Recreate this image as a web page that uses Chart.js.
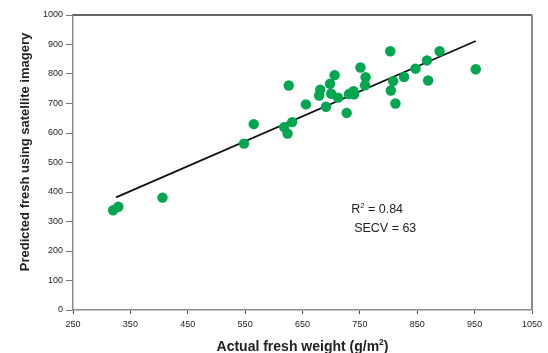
<!DOCTYPE html>
<html>
<head>
<meta charset="utf-8">
<script src="https://cdn.jsdelivr.net/npm/chart.js@4/dist/chart.umd.min.js"></script>
<style>
html,body{margin:0;padding:0;background:#fff;}
#wrap{width:548px;height:353px;position:relative;}
</style>
</head>
<body>
<div id="wrap"><canvas id="c" width="548" height="353"></canvas></div>
<script>
// Observed data: actual fresh weight (x) vs predicted (y)
const actualWeight = [320, 329, 406, 548, 565, 618, 624, 632, 626, 656, 679, 681, 691, 698, 700, 706, 712, 727, 731, 739, 740, 751, 760, 759, 803, 804, 808, 812, 827, 847, 867, 869, 889, 952];
const predictedWeight = [338, 350, 381, 564, 630, 620, 598, 637, 761, 697, 727, 747, 689, 767, 733, 796, 720, 668, 732, 742, 731, 822, 789, 762, 877, 744, 776, 700, 790, 818, 846, 778, 877, 816];
// Fitted regression line end points
const fitX = [325, 952];
const fitY = [382, 912];
// Axis ticks
const xTicks = [250, 350, 450, 550, 650, 750, 850, 950, 1050];
const yTicks = [0, 100, 200, 300, 400, 500, 600, 700, 800, 900, 1000];
const xTitle = 'Actual fresh weight (g/m';
const yTitle = 'Predicted fresh using satellite imagery';
const r2Text = ['R', '2', ' = 0.84'];
const secvText = 'SECV = 63';

const FONT = "'Liberation Sans', Arial, sans-serif";

const extras = {
  id: 'extras',
  afterDraw(chart) {
    const ctx = chart.ctx;
    const a = chart.chartArea;
    const xs = chart.scales.x, ys = chart.scales.y;
    ctx.save();
    // top border
    ctx.strokeStyle = '#333';
    ctx.lineWidth = 1.5;
    ctx.beginPath();
    ctx.moveTo(a.left, a.top);
    ctx.lineTo(a.right, a.top);
    ctx.stroke();
    // right border
    ctx.strokeStyle = '#8a8a8a';
    ctx.lineWidth = 2;
    ctx.beginPath();
    ctx.moveTo(a.right, a.top);
    ctx.lineTo(a.right, a.bottom);
    ctx.stroke();

    // annotations
    ctx.fillStyle = '#222';
    ctx.textBaseline = 'alphabetic';
    ctx.textAlign = 'left';
    let x = xs.getPixelForValue(735);
    let y = ys.getPixelForValue(330);
    ctx.font = '12.5px ' + FONT;
    ctx.fillText(r2Text[0], x, y);
    x += ctx.measureText(r2Text[0]).width;
    ctx.font = '7.5px ' + FONT;
    ctx.fillText(r2Text[1], x, y - 5);
    x += ctx.measureText(r2Text[1]).width;
    ctx.font = '12.5px ' + FONT;
    ctx.fillText(r2Text[2], x, y);
    ctx.fillText(secvText, xs.getPixelForValue(740), ys.getPixelForValue(265));

    // x title
    ctx.font = 'bold 14px ' + FONT;
    const w1 = ctx.measureText(xTitle).width;
    ctx.font = 'bold 8.5px ' + FONT;
    const w2 = ctx.measureText('2').width;
    ctx.font = 'bold 14px ' + FONT;
    const w3 = ctx.measureText(')').width;
    let tx = (a.left + a.right) / 2 - (w1 + w2 + w3) / 2;
    const ty = 351;
    ctx.fillText(xTitle, tx, ty);
    tx += w1;
    ctx.font = 'bold 8.5px ' + FONT;
    ctx.fillText('2', tx, ty - 6);
    tx += w2;
    ctx.font = 'bold 14px ' + FONT;
    ctx.fillText(')', tx, ty);

    // y title
    ctx.translate(29, 152);
    ctx.rotate(-Math.PI / 2);
    ctx.textAlign = 'center';
    ctx.font = 'bold 13px ' + FONT;
    ctx.fillText(yTitle, 0, 0);
    ctx.restore();
  }
};

new Chart(document.getElementById('c'), {
  type: 'scatter',
  data: {
    datasets: [
      {
        label: 'Observed',
        data: actualWeight.map((v, i) => ({x: v, y: predictedWeight[i]})),
        backgroundColor: '#00a650',
        borderWidth: 0,
        pointRadius: 5.2,
        pointHoverRadius: 5.2
      },
      {
        label: 'Fit',
        type: 'line',
        data: fitX.map((v, i) => ({x: v, y: fitY[i]})),
        borderColor: '#111',
        borderWidth: 1.8,
        pointRadius: 0,
        fill: false
      }
    ]
  },
  options: {
    responsive: false,
    animation: false,
    events: [],
    layout: {padding: {left: 0, top: 15, right: 16, bottom: 0}},
    plugins: {legend: {display: false}, tooltip: {enabled: false}},
    scales: {
      x: {
        type: 'linear',
        min: xTicks[0],
        max: xTicks[xTicks.length - 1],
        afterBuildTicks(s) { s.ticks = xTicks.map(v => ({value: v})); },
        afterFit(s) { s.height = 43; },
        grid: {drawOnChartArea: false, drawTicks: true, tickLength: 4, tickColor: '#444', tickWidth: 1},
        border: {display: true, color: '#8a8a8a', width: 1.5},
        ticks: {padding: 5, color: '#222', font: {family: FONT, size: 9}, maxRotation: 0, autoSkip: false,
          callback: v => String(v)}
      },
      y: {
        type: 'linear',
        min: yTicks[0],
        max: yTicks[yTicks.length - 1],
        afterBuildTicks(s) { s.ticks = yTicks.map(v => ({value: v})); },
        afterFit(s) { s.width = 73; },
        grid: {drawOnChartArea: false, drawTicks: true, tickLength: 7, tickColor: '#777', tickWidth: 1},
        border: {display: true, color: '#8a8a8a', width: 1.5},
        ticks: {padding: 3, color: '#222', font: {family: FONT, size: 9}, autoSkip: false,
          callback: v => String(v)}
      }
    }
  },
  plugins: [extras]
});
</script>
</body>
</html>
